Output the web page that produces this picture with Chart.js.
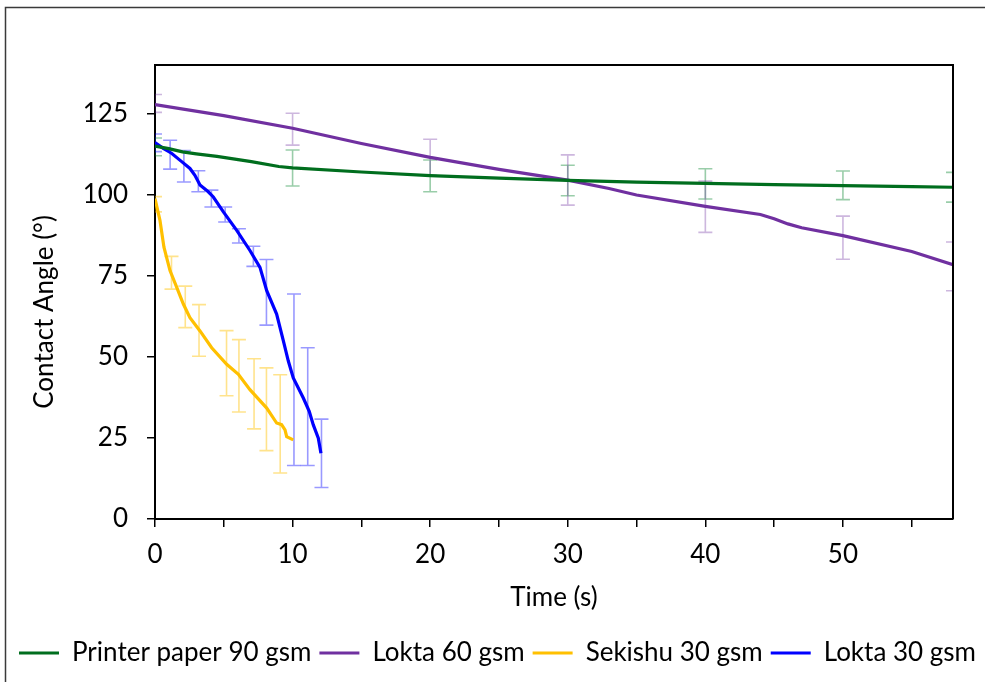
<!DOCTYPE html>
<html>
<head>
<meta charset="utf-8">
<script src="https://cdn.jsdelivr.net/npm/chart.js@4.4.0/dist/chart.umd.min.js"></script>
<style>
  html, body { margin: 0; padding: 0; background: #fff; }
</style>
</head>
<body>
<canvas id="chart" width="985" height="682"></canvas>
<script>
// time (s) and contact angle (deg)
const printerT = [0, 0.5, 1, 2, 3, 4.5, 7, 9, 10, 15, 20, 25, 30, 35, 40, 45, 50, 55, 58];
const printerA = [115, 114.6, 114.2, 113.2, 112.6, 111.8, 110.2, 108.7, 108.3, 107, 105.9, 105.1, 104.4, 103.9, 103.5, 103.1, 102.8, 102.5, 102.3];

const lokta60T = [0, 5, 10, 15, 20, 25, 30, 33, 35, 40, 44, 45, 46, 47, 50, 55, 58];
const lokta60A = [127.8, 124.4, 120.5, 115.8, 111.5, 107.8, 104.5, 101.9, 99.9, 96.4, 93.9, 92.6, 91.0, 89.8, 87.4, 82.5, 78.4];

const sekishuT = [0, 0.36, 0.65, 1.09, 1.58, 2.06, 2.54, 3.27, 4.12, 5.21, 6.06, 6.9, 8.12, 8.84, 9.2, 9.45, 9.57, 10.05];
const sekishuA = [98.8, 92.1, 83.8, 76.6, 71.4, 66.3, 62.1, 58.0, 52.8, 47.7, 44.6, 39.9, 34.2, 29.6, 29.1, 27.5, 25.4, 24.4];

const lokta30T = [0, 0.6, 1.2, 1.94, 2.54, 2.9, 3.27, 3.87, 4.24, 4.97, 5.94, 6.9, 7.63, 8.12, 8.84, 9.33, 9.69, 10.05, 10.78, 11.21, 11.5, 11.87, 12.06];
const lokta30A = [116.1, 114.3, 112.8, 110.2, 108.1, 106, 103, 100.9, 99.3, 94.7, 89.0, 82.8, 77.6, 70.4, 63.2, 54.9, 48.7, 43.5, 37.3, 33.2, 29.1, 24.9, 20.3];

// error bars: time, low, high
const printerErrT = [0, 10, 20, 30, 40, 50, 58];
const printerErrLo = [112, 102.7, 100.9, 99.7, 98.7, 98.5, 97.7];
const printerErrHi = [117.5, 113.8, 110.7, 109.1, 108, 107.3, 106.9];

const lokta60ErrT = [0, 10, 20, 30, 40, 50, 58];
const lokta60ErrLo = [125.4, 115.3, 106, 96.8, 88.4, 80.1, 70.4];
const lokta60ErrHi = [130.9, 125.1, 117.1, 112.3, 104.2, 93.4, 85.4];

const sekishuErrT = [0, 1.2, 2.2, 3.2, 5.2, 6.1, 7.2, 8.1, 9.1];
const sekishuErrLo = [94.7, 70.9, 59.0, 50.2, 38.0, 33.0, 27.8, 21.1, 14.2];
const sekishuErrHi = [99.4, 81.0, 71.8, 66.1, 58.1, 55.3, 49.4, 46.6, 44.5];

const lokta30ErrT = [0, 1.1, 2.1, 3.15, 4.1, 5.1, 6.1, 7.15, 8.1, 10.1, 11.1, 12.1];
const lokta30ErrLo = [113.3, 107.9, 103.9, 100.9, 96.2, 91.6, 85.1, 77.9, 59.8, 16.5, 16.5, 9.7];
const lokta30ErrHi = [118.7, 116.8, 113.6, 107.4, 101.4, 96.2, 89.5, 84.1, 80.0, 69.4, 52.8, 30.8];

const labels = ['Printer paper 90 gsm', 'Lokta 60 gsm', 'Sekishu 30 gsm', 'Lokta 30 gsm'];
const colors = ['#006E1E', '#7030A0', '#FFC000', '#0000FF'];
const errColors = ['rgba(0,130,40,0.4)', 'rgba(112,48,160,0.35)', 'rgba(255,192,0,0.45)', 'rgba(0,0,255,0.4)'];

const FONT = 'Lato';
const FS = 26;

function pts(t, a) {
  return t.map((x, i) => ({ x: x, y: a[i] }));
}

const errSets = [
  { t: printerErrT, lo: printerErrLo, hi: printerErrHi, color: errColors[0] },
  { t: lokta60ErrT, lo: lokta60ErrLo, hi: lokta60ErrHi, color: errColors[1] },
  { t: sekishuErrT, lo: sekishuErrLo, hi: sekishuErrHi, color: errColors[2] },
  { t: lokta30ErrT, lo: lokta30ErrLo, hi: lokta30ErrHi, color: errColors[3] }
];

const errorBars = {
  id: 'errorBars',
  beforeDatasetsDraw(chart) {
    const ctx = chart.ctx;
    const xs = chart.scales.x, ys = chart.scales.y, a = chart.chartArea;
    ctx.save();
    ctx.beginPath();
    ctx.rect(a.left, a.top, a.right - a.left, a.bottom - a.top);
    ctx.clip();
    ctx.lineWidth = 1.6;
    errSets.forEach(e => {
      ctx.strokeStyle = e.color;
      e.t.forEach((t, i) => {
        const x = xs.getPixelForValue(t);
        const y1 = ys.getPixelForValue(e.lo[i]);
        const y2 = ys.getPixelForValue(e.hi[i]);
        ctx.beginPath();
        ctx.moveTo(x, y1); ctx.lineTo(x, y2);
        ctx.moveTo(x - 7, y1); ctx.lineTo(x + 7, y1);
        ctx.moveTo(x - 7, y2); ctx.lineTo(x + 7, y2);
        ctx.stroke();
      });
    });
    ctx.restore();
  }
};

const frame = {
  id: 'frame',
  beforeDraw(chart) {
    const ctx = chart.ctx;
    ctx.save();
    ctx.fillStyle = '#fff';
    ctx.fillRect(0, 0, chart.width, chart.height);
    ctx.strokeStyle = '#3a3a3a';
    ctx.lineWidth = 1.5;
    ctx.strokeRect(5.5, 7.5, chart.width + 20, chart.height + 20);
    ctx.restore();
  },
  afterDraw(chart) {
    const ctx = chart.ctx, a = chart.chartArea;
    ctx.save();
    ctx.strokeStyle = '#000';
    ctx.lineWidth = 2;
    ctx.beginPath();
    ctx.moveTo(a.left, a.top);
    ctx.lineTo(a.right, a.top);
    ctx.lineTo(a.right, a.bottom);
    ctx.stroke();
    ctx.restore();
  }
};

const series = [
  pts(printerT, printerA),
  pts(lokta60T, lokta60A),
  pts(sekishuT, sekishuA),
  pts(lokta30T, lokta30A)
];

new Chart(document.getElementById('chart'), {
  type: 'line',
  data: {
    datasets: series.map((d, i) => ({
      label: labels[i],
      data: d,
      borderColor: colors[i],
      backgroundColor: colors[i],
      borderWidth: 3.2,
      pointRadius: 0,
      tension: 0
    }))
  },
  options: {
    responsive: false,
    animation: false,
    layout: { padding: { left: 11, top: 65, right: 0, bottom: 6 } },
    plugins: {
      legend: {
        position: 'bottom',
        align: 'start',
        labels: {
          font: { family: FONT, size: FS },
          color: '#000',
          boxWidth: 40,
          boxHeight: 3,
          padding: 8,
          generateLabels: chart =>
            Chart.defaults.plugins.legend.labels.generateLabels(chart).map(l => ({ ...l, lineWidth: 0 }))
        }
      },
      tooltip: { enabled: false }
    },
    scales: {
      x: {
        type: 'linear',
        min: 0,
        max: 58,
        ticks: {
          stepSize: 5,
          includeBounds: false,
          autoSkip: false,
          maxRotation: 0,
          padding: 12,
          color: '#000',
          font: { family: FONT, size: FS },
          callback: v => (v % 10 === 0 ? v : '')
        },
        grid: { drawOnChartArea: false, tickLength: 8, color: '#000', lineWidth: 1.5 },
        border: { display: true, color: '#000', width: 2 },
        title: {
          display: true,
          text: 'Time (s)',
          color: '#000',
          font: { family: FONT, size: FS },
          padding: { top: 0, bottom: 19 }
        },
        afterFit: s => { s.height = 113; }
      },
      y: {
        min: 0,
        max: 140,
        ticks: {
          stepSize: 25,
          includeBounds: false,
          padding: 19,
          color: '#000',
          font: { family: FONT, size: FS }
        },
        grid: { drawOnChartArea: false, tickLength: 8, color: '#000', lineWidth: 1.5 },
        border: { display: true, color: '#000', width: 2 },
        title: {
          display: true,
          text: 'Contact Angle (°)      ',
          color: '#000',
          font: { family: FONT, size: FS },
          padding: { top: 18, bottom: 0 }
        },
        afterFit: s => { s.width = 144; }
      },
      yr: {
        position: 'right',
        display: true,
        ticks: { display: false },
        grid: { display: false },
        border: { display: false },
        afterFit: s => { s.width = 32; }
      }
    }
  },
  plugins: [errorBars, frame]
});
</script>
</body>
</html>
